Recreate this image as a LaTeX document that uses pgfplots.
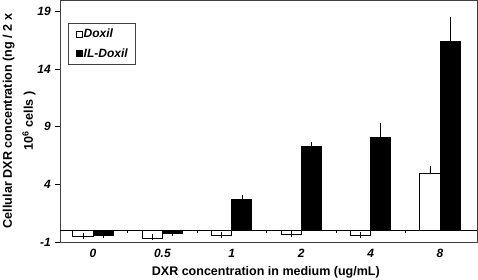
\documentclass[border=0pt]{standalone}
\usepackage{fontspec}
\usepackage{pgfplots}
\pgfplotsset{compat=1.18}
\setmainfont{Liberation Sans}
\pgfplotsset{sq legend/.style={legend image code/.code={\draw[##1, line width=0.6pt] (0pt,-3.2pt) rectangle (6.5pt,3.2pt);}}}
\begin{document}
\begin{tikzpicture}
\begin{axis}[
  scale only axis, width=417pt, height=242pt,
  xmin=-0.4755, xmax=5.533, ymin=-1, ymax=20,
  axis line style={draw=black!75, line width=0.8pt},
  xtick={0,1,2,3,4,5}, xticklabels={0,0.5,1,2,4,8},
  xtick style={draw=none},
  ytick={-1,4,9,14,19}, yticklabels={-1,4,9,14,19},
  ytick pos=left, tick align=outside, major tick length=5pt,
  ytick style={black, line width=0.6pt},
  extra y ticks={0}, extra y tick labels={},
  extra y tick style={grid=major, major grid style={black, line width=0.7pt}, major tick length=0pt},
  xticklabel style={font=\bfseries\itshape\fontsize{12}{13}\selectfont, inner sep=0pt, anchor=north, yshift=-2pt},
  yticklabel style={font=\bfseries\itshape\fontsize{12}{13}\selectfont, inner sep=0pt, anchor=east, xshift=-4pt},
  xlabel={DXR concentration in medium (ug/mL)},
  xlabel style={font=\bfseries\fontsize{12.5}{14}\selectfont, inner sep=0pt, anchor=base, at={(axis description cs:0.4936,-0.139)}},
  ylabel={Cellular DXR concentration (ng / 2 x\\10\textsuperscript{6} cells )},
  ylabel style={font=\bfseries\fontsize{12.6}{21}\selectfont, align=center, inner sep=0pt, anchor=south, at={(axis description cs:-0.0583,0.5)}},
  legend style={at={(axis description cs:0.0199,0.905)}, anchor=north west, draw=black!75, line width=0.6pt,
    font=\bfseries\itshape\fontsize{12}{13}\selectfont, row sep=7pt, inner xsep=7pt, inner ysep=5pt,
    nodes={inner sep=1pt}, cells={anchor=west}},
]
\addplot[ybar, bar width=0.29, bar shift=0, fill=white, draw=black, line width=1pt, sq legend,
  error bars/.cd, y dir=plus, y explicit,
  error bar style={black, line width=0.6pt}, error mark options={black, mark size=3pt, line width=0.6pt}]
  table[x=x, y=y, y error=e] {
x y e
-0.145 -0.52 0.08
0.855 -0.66 0.08
1.855 -0.46 0.08
2.855 -0.35 0.08
3.855 -0.43 0.08
4.855 4.94 0.37
};
\addlegendentry{Doxil}
\addplot[ybar, bar width=0.29, bar shift=0, fill=black, draw=black, line width=1pt, sq legend,
  error bars/.cd, y dir=plus, y explicit,
  error bar style={black, line width=0.6pt}, error mark options={black, mark size=3pt, line width=0.6pt}]
  table[x=x, y=y, y error=e] {
x y e
0.145 -0.43 0
1.145 -0.23 0
2.145 2.73 0.06
3.145 7.26 0.2
4.145 8.06 0.98
5.145 16.42 1.88
};
\addlegendentry{IL-Doxil}
\addplot[only marks, mark=|, mark size=1.5pt, black, line width=0.6pt, forget plot]
  coordinates {(0.5,-0.13) (1.5,-0.13) (2.5,-0.13) (3.5,-0.13) (4.5,-0.13)};
\end{axis}
\pgfresetboundingbox
\path (current axis.south west) ++(-60pt,-38pt) rectangle ++(478pt,280pt);
\end{tikzpicture}
\end{document}
